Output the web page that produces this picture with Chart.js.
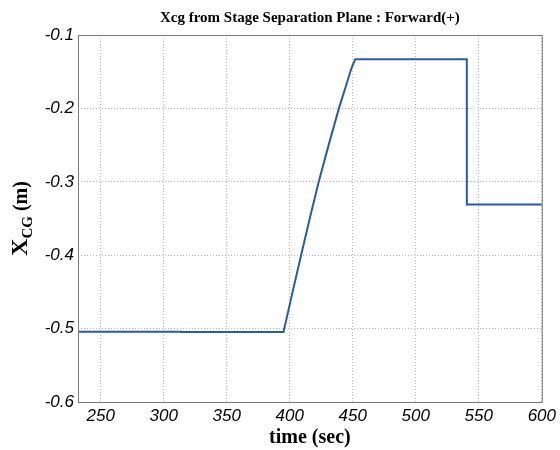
<!DOCTYPE html>
<html>
<head>
<meta charset="utf-8">
<script src="https://cdn.jsdelivr.net/npm/chart.js@4"></script>
<style>
  html, body { margin: 0; padding: 0; background: #fff; }
  #wrap { width: 560px; height: 450px; }
</style>
</head>
<body>
<div id="wrap"><canvas id="chart1"></canvas></div>
<script>
const titleText = 'Xcg from Stage Separation Plane : Forward(+)';
const timeSec = [232, 314, 314, 395, 402, 409, 416, 423, 431, 439, 445, 449, 452, 540.5, 540.5, 600];
const xcgMeters = [-0.5042, -0.5042, -0.5048, -0.5048, -0.452, -0.400, -0.349, -0.300, -0.249, -0.200, -0.167, -0.145, -0.133, -0.133, -0.331, -0.331];
const xTicks = [250, 300, 350, 400, 450, 500, 550, 600];
const yTicks = [-0.6, -0.5, -0.4, -0.3, -0.2, -0.1];

const points = timeSec.map((t, i) => ({ x: t, y: xcgMeters[i] }));

// box around the plot + title centred over the plot, like matlab axes
const boxPlugin = {
  id: 'box',
  afterDraw(chart) {
    const a = chart.chartArea, ctx = chart.ctx;
    ctx.save();
    ctx.strokeStyle = '#7a7a7a';
    ctx.lineWidth = 1;
    ctx.strokeRect(a.left + 0.5, a.top + 0.5, a.right - a.left, a.bottom - a.top);
    ctx.fillStyle = '#000';
    ctx.font = 'bold 15px "Liberation Serif"';
    ctx.textAlign = 'center';
    ctx.textBaseline = 'middle';
    ctx.fillText(titleText, (a.left + a.right) / 2, 18);
    ctx.restore();
  }
};

// y title with subscript: X_CG (m)
const yTitlePlugin = {
  id: 'yTitle',
  afterDraw(chart) {
    const ctx = chart.ctx, a = chart.chartArea;
    const parts = [
      { t: 'X', f: 'bold 24px "Liberation Serif"', dy: 0 },
      { t: 'CG', f: 'bold 15px "Liberation Serif"', dy: 5 },
      { t: ' (m)', f: 'bold 20px "Liberation Serif"', dy: 0 }
    ];
    ctx.save();
    let total = 0;
    parts.forEach(p => { ctx.font = p.f; p.w = ctx.measureText(p.t).width; total += p.w; });
    ctx.translate(27, (a.top + a.bottom) / 2);
    ctx.rotate(-Math.PI / 2);
    ctx.fillStyle = '#000';
    ctx.textBaseline = 'alphabetic';
    let x = -total / 2;
    parts.forEach(p => { ctx.font = p.f; ctx.fillText(p.t, x, p.dy); x += p.w; });
    ctx.restore();
  }
};

const ctx = document.getElementById('chart1');
new Chart(ctx, {
  type: 'line',
  data: {
    datasets: [{
      data: points,
      borderColor: '#2a5aa8',
      borderWidth: 2,
      pointRadius: 0,
      tension: 0,
      fill: false
    }]
  },
  options: {
    responsive: true,
    maintainAspectRatio: false,
    animation: false,
    layout: { padding: { top: 35, right: 17, left: 0, bottom: 0 } },
    plugins: {
      legend: { display: false },
      tooltip: { enabled: false },
      title: { display: false }
    },
    scales: {
      x: {
        type: 'linear',
        min: 232,
        max: 600,
        afterBuildTicks: s => { s.ticks = xTicks.map(v => ({ value: v })); },
        afterFit: s => { s.height = 48; },
        ticks: {
          color: '#000',
          padding: 4,
          maxRotation: 0,
          font: { family: '"Liberation Sans"', size: 17, style: 'italic' }
        },
        grid: { color: '#b5b5b5', drawTicks: false },
        border: { display: false, dash: [1, 2] },
        title: {
          display: true,
          text: 'time (sec)',
          color: '#000',
          padding: { top: 0, bottom: 0 },
          font: { family: '"Liberation Serif"', size: 20, weight: 'bold', lineHeight: 1.2 }
        }
      },
      y: {
        min: -0.6,
        max: -0.1,
        afterBuildTicks: s => { s.ticks = yTicks.map(v => ({ value: v })); },
        afterFit: s => { s.width = 78; },
        ticks: {
          color: '#000',
          padding: 4,
          callback: v => v.toFixed(1),
          font: { family: '"Liberation Sans"', size: 17, style: 'italic' }
        },
        grid: { color: '#b5b5b5', drawTicks: false },
        border: { display: false, dash: [1, 2] }
      }
    }
  },
  plugins: [boxPlugin, yTitlePlugin]
});
</script>
</body>
</html>
